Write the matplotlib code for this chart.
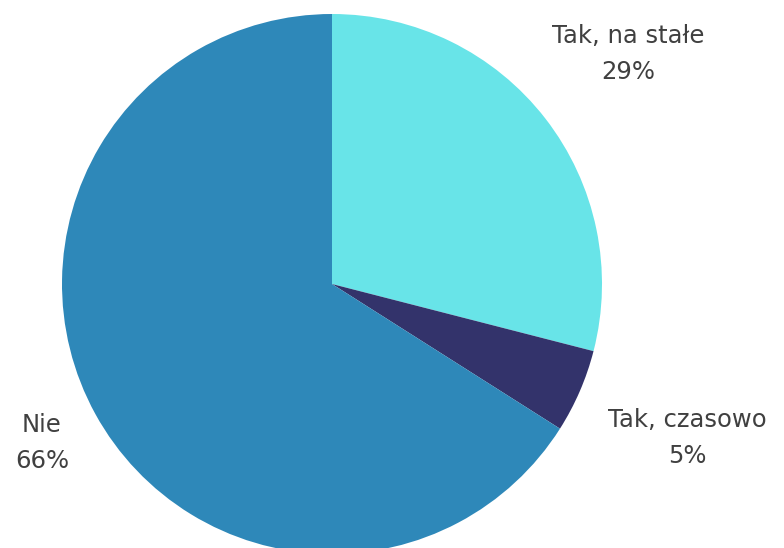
import matplotlib
matplotlib.use("Agg")
import matplotlib.pyplot as plt

categories = ["Tak, na stałe", "Tak, czasowo", "Nie"]
values = [29, 5, 66]
colors = ["#68E4E8", "#33336B", "#2E88B9"]

W, H = 784, 548
fig = plt.figure(figsize=(W / 100, H / 100), dpi=100)
ax = fig.add_axes([0, 0, 1, 1])

cx, cy, r = 332, H - 284, 270
ax.pie(values, colors=colors, startangle=90, counterclock=False,
       center=(cx, cy), radius=r, frame=True,
       wedgeprops=dict(linewidth=0))
ax.set_xlim(0, W)
ax.set_ylim(0, H)
ax.set_aspect("equal")
ax.axis("off")

label_pos = [(628, 54), (687, 438), (42, 443)]
for cat, val, (x, y) in zip(categories, values, label_pos):
    ax.text(x, H - y, f"{cat}\n{val}%", ha="center", va="center",
            fontsize=17.5, color="#404040", linespacing=1.6,
            family=["DejaVu Sans"])

fig.savefig("out.png", dpi=100)
